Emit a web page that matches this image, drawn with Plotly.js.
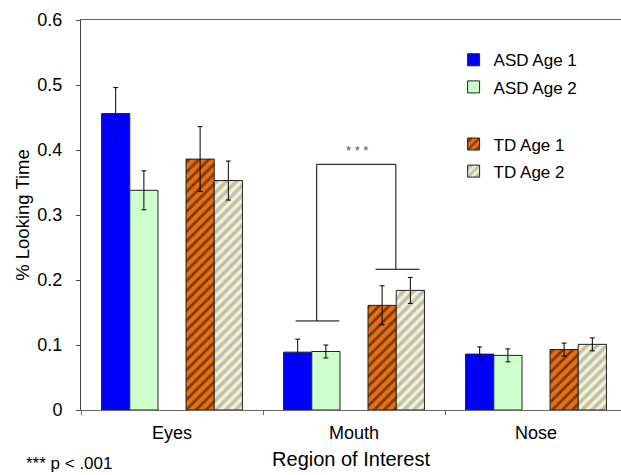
<!DOCTYPE html>
<html>
<head>
<meta charset="utf-8">
<script src="https://cdn.plot.ly/plotly-3.0.1.min.js"></script>
<style>html,body{margin:0;padding:0;background:#fff;}#chart{width:621px;height:475px;}</style>
</head>
<body>
<div id="chart"></div>
<script>
// Data
var regions = ["Eyes", "Mouth", "Nose"];
var asdAge1 = [0.456, 0.089, 0.086];
var asdAge1Err = [0.040, 0.020, 0.011];
var asdAge2 = [0.338, 0.090, 0.084];
var asdAge2Err = [0.030, 0.010, 0.010];
var tdAge1 = [0.386, 0.161, 0.093];
var tdAge1Err = [0.050, 0.030, 0.010];
var tdAge2 = [0.353, 0.184, 0.101];
var tdAge2Err = [0.030, 0.020, 0.010];
var seriesNames = ["ASD Age 1", "ASD Age 2", "TD Age 1", "TD Age 2"];
var yTicks = [0, 0.1, 0.2, 0.3, 0.4, 0.5, 0.6];
var yTickText = ["0", "0.1", "0.2", "0.3", "0.4", "0.5", "0.6"];
// significance bracket (Mouth: ASD vs TD)
var sigLeftY = 0.137, sigTopY = 0.378, sigRightY = 0.2165;
var sigLabel = "* * *";
var footnote = "*** p < .001";

var FONT = "Liberation Sans, Arial, Helvetica, sans-serif";
var W = 0.155;

function errOpts(arr){
  return {type:"data", array:arr, visible:true, color:"#000", thickness:1, width:2.5};
}
var lineStyle = {color:"#222", width:1};

var traces = [
  {type:"bar", name:seriesNames[0], x:regions, y:asdAge1, error_y:errOpts(asdAge1Err),
   width:W, offset:-0.387, legend:"legend", legendgroup:"a1",
   marker:{color:"#0000FF", line:lineStyle}},
  {type:"bar", name:seriesNames[1], x:regions, y:asdAge2, error_y:errOpts(asdAge2Err),
   width:W, offset:-0.232, legend:"legend", legendgroup:"a2",
   marker:{color:"#CCFFCC", line:lineStyle}},
  {type:"bar", name:seriesNames[2], x:regions, y:tdAge1, error_y:errOpts(tdAge1Err),
   width:W, offset:0.077, legend:"legend2", legendgroup:"t1",
   marker:{color:"#E8700F", line:lineStyle,
     pattern:{shape:"/", fillmode:"replace", bgcolor:"#E8700F", fgcolor:"#7A3A0E", size:7, solidity:0.4}}},
  {type:"bar", name:seriesNames[3], x:regions, y:tdAge2, error_y:errOpts(tdAge2Err),
   width:W, offset:0.232, legend:"legend2", legendgroup:"t2",
   marker:{color:"#F4F4C4", line:lineStyle,
     pattern:{shape:"/", fillmode:"replace", bgcolor:"#F4F4C4", fgcolor:"#BDBDBD", size:7, solidity:0.5}}}
];

var bl = {color:"#000", width:1};
var shapes = [
  {type:"line", xref:"x", yref:"y", x0:0.679, x1:0.920, y0:sigLeftY, y1:sigLeftY, line:bl},
  {type:"line", xref:"x", yref:"y", x0:0.795, x1:0.795, y0:sigLeftY, y1:sigTopY, line:bl},
  {type:"line", xref:"x", yref:"y", x0:0.795, x1:1.230, y0:sigTopY, y1:sigTopY, line:bl},
  {type:"line", xref:"x", yref:"y", x0:1.230, x1:1.230, y0:sigTopY, y1:sigRightY, line:bl},
  {type:"line", xref:"x", yref:"y", x0:1.118, x1:1.360, y0:sigRightY, y1:sigRightY, line:bl}
];

var legendCommon = {
  font:{family:FONT, size:17, color:"#000"},
  bgcolor:"rgba(0,0,0,0)", borderwidth:0,
  xanchor:"left", yanchor:"top", tracegroupgap:2, itemwidth:30
};

var layout = {
  width:621, height:475,
  margin:{l:81, r:0, t:20, b:65},
  paper_bgcolor:"#fff", plot_bgcolor:"#fff",
  font:{family:FONT, size:17, color:"#000"},
  barmode:"group",
  showlegend:true,
  legend:Object.assign({x:0.69, y:0.943}, legendCommon),
  legend2:Object.assign({x:0.69, y:0.727}, legendCommon),
  xaxis:{
    type:"category", range:[-0.5, 2.467],
    showline:true, linecolor:"#666", linewidth:1, mirror:true,
    ticks:"outside", tickson:"boundaries", ticklen:4, tickcolor:"#666",
    ticklabelstandoff:6,
    tickfont:{family:FONT, size:18, color:"#000"},
    showgrid:false, zeroline:false,
    title:{text:"Region of Interest", font:{family:FONT, size:20, color:"#000"}, standoff:10}
  },
  yaxis:{
    range:[0, 0.6], tickvals:yTicks, ticktext:yTickText,
    showline:true, linecolor:"#444", linewidth:1,
    ticks:"outside", ticklen:4, tickcolor:"#444",
    ticklabelstandoff:10,
    tickfont:{family:FONT, size:18, color:"#000"},
    showgrid:false, zeroline:false,
    title:{text:"% Looking Time", font:{family:FONT, size:18.5, color:"#000"}, standoff:2}
  },
  shapes:shapes,
  annotations:[
    {xref:"x", yref:"y", x:1.014, y:0.40, text:sigLabel, showarrow:false,
     font:{family:FONT, size:13, color:"#555"}},
    {xref:"paper", yref:"paper", x:-0.105, y:-0.138, xanchor:"left", yanchor:"middle",
     text:footnote, showarrow:false,
     font:{family:FONT, size:17, color:"#000"}}
  ]
};

Plotly.newPlot("chart", traces, layout, {displayModeBar:false, staticPlot:true});
</script>
</body>
</html>
